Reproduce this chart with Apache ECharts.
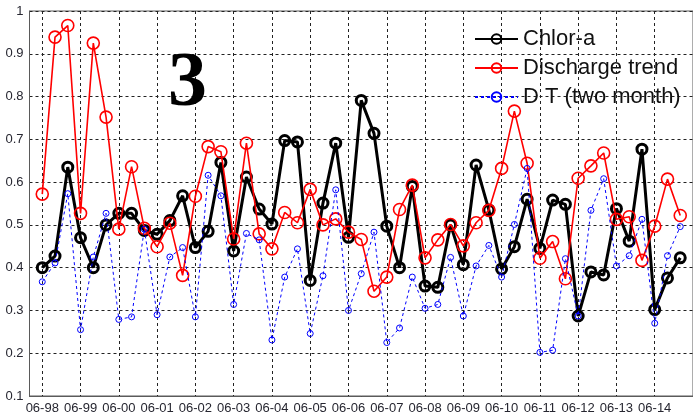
<!DOCTYPE html>
<html>
<head>
<meta charset="utf-8">
<script src="https://cdn.jsdelivr.net/npm/echarts@6/dist/echarts.min.js"></script>
<style>
  html, body { margin: 0; padding: 0; background: #fff; }
  #chart { width: 693px; height: 415px; }
</style>
</head>
<body>
<div id="chart"></div>
<script>
// Sampling dates, one every four months (MM-YY)
const dates = [
  '06-98','10-98','02-99','06-99','10-99','02-00','06-00','10-00','02-01',
  '06-01','10-01','02-02','06-02','10-02','02-03','06-03','10-03','02-04',
  '06-04','10-04','02-05','06-05','10-05','02-06','06-06','10-06','02-07',
  '06-07','10-07','02-08','06-08','10-08','02-09','06-09','10-09','02-10',
  '06-10','10-10','02-11','06-11','10-11','02-12','06-12','10-12','02-13',
  '06-13','10-13','02-14','06-14','10-14','02-15'
];

const chlorA = [
  0.400, 0.427, 0.635, 0.470, 0.400, 0.500, 0.527, 0.527, 0.487,
  0.478, 0.510, 0.568, 0.447, 0.485, 0.646, 0.439, 0.612, 0.537,
  0.502, 0.697, 0.694, 0.370, 0.551, 0.691, 0.471, 0.791, 0.714,
  0.497, 0.400, 0.590, 0.357, 0.354, 0.500, 0.407, 0.640, 0.535,
  0.397, 0.449, 0.560, 0.445, 0.558, 0.548, 0.287, 0.390, 0.383,
  0.538, 0.462, 0.677, 0.302, 0.376, 0.423
];

const dischargeTrend = [
  0.572, 0.939, 0.966, 0.527, 0.925, 0.752, 0.490, 0.636, 0.492,
  0.449, 0.504, 0.382, 0.567, 0.683, 0.671, 0.467, 0.691, 0.479,
  0.444, 0.529, 0.505, 0.583, 0.500, 0.514, 0.483, 0.466, 0.345,
  0.378, 0.536, 0.593, 0.423, 0.465, 0.501, 0.451, 0.505, 0.534,
  0.632, 0.766, 0.644, 0.422, 0.461, 0.374, 0.609, 0.638, 0.668,
  0.513, 0.519, 0.417, 0.497, 0.607, 0.522
];

const dischargeTwoMonth = [
  0.367, 0.411, 0.573, 0.255, 0.425, 0.527, 0.279, 0.285, 0.490,
  0.290, 0.425, 0.447, 0.285, 0.616, 0.568, 0.314, 0.480, 0.465,
  0.231, 0.378, 0.444, 0.246, 0.381, 0.582, 0.300, 0.386, 0.483,
  0.225, 0.259, 0.378, 0.305, 0.314, 0.424, 0.287, 0.404, 0.452,
  0.378, 0.501, 0.632, 0.202, 0.207, 0.421, 0.287, 0.534, 0.608,
  0.404, 0.428, 0.513, 0.270, 0.428, 0.496
];

const seriesNames = ['Chlor-a', 'Discharge trend', 'D T (two month)'];
const panelTag = '3';

// one empty slot on each side so the first sample sits inside the frame
const axisCats = [' '].concat(dates, ['  ']);
const pad = arr => [null].concat(arr, [null]);
const isJune = (idx, val) => typeof val === 'string' && val.indexOf('06-') === 0;

const FONT = '"Liberation Sans", Arial, sans-serif';
const STEP = 12.938;

const chart = echarts.init(document.getElementById('chart'), null, { renderer: 'canvas' });

chart.setOption({
  animation: false,
  backgroundColor: '#ffffff',
  grid: {
    left: 29.5,
    top: 11,
    width: STEP * (axisCats.length - 1),
    height: 388,
    show: true,
    borderColor: '#5a5a5a',
    borderWidth: 1,
    backgroundColor: 'transparent'
  },
  xAxis: {
    type: 'category',
    data: axisCats,
    boundaryGap: false,
    axisLine: { show: true, lineStyle: { color: '#5a5a5a', width: 1 } },
    axisTick: { show: false },
    axisLabel: {
      interval: isJune,
      margin: 6,
      color: '#262630',
      fontFamily: FONT,
      fontSize: 13
    },
    splitLine: {
      show: true,
      interval: isJune,
      lineStyle: { color: '#222', width: 1, type: [3, 3] }
    }
  },
  yAxis: {
    type: 'value',
    min: 0.1,
    max: 1,
    interval: 0.1,
    axisLine: { show: true, lineStyle: { color: '#5a5a5a', width: 1 } },
    axisTick: { show: false },
    axisLabel: {
      margin: 6,
      color: '#262630',
      fontFamily: FONT,
      fontSize: 13,
      formatter: v => String(Math.round(v * 10) / 10)
    },
    splitLine: {
      show: true,
      lineStyle: { color: '#222', width: 1, type: [3, 3] }
    }
  },
  legend: {
    orient: 'vertical',
    left: 469,
    top: 23,
    itemWidth: 43,
    itemHeight: 12,
    itemGap: 7,
    backgroundColor: 'transparent',
    textStyle: {
      fontFamily: FONT,
      fontSize: 22,
      lineHeight: 22,
      color: '#111'
    },
    data: seriesNames
  },
  graphic: [{
    type: 'text',
    left: 168,
    top: 46,
    z: 10,
    style: {
      text: panelTag,
      font: 'bold 78px "Liberation Serif", "Times New Roman", serif',
      fill: '#000'
    }
  }],
  series: [
    {
      name: seriesNames[0],
      type: 'line',
      data: pad(chlorA),
      z: 2,
      showAllSymbol: true,
      symbol: 'circle',
      symbolSize: 10,
      lineStyle: { color: '#000', width: 3 },
      itemStyle: { color: 'rgba(255,255,255,0)', borderColor: '#000', borderWidth: 3 }
    },
    {
      name: seriesNames[1],
      type: 'line',
      data: pad(dischargeTrend),
      z: 3,
      showAllSymbol: true,
      symbol: 'circle',
      symbolSize: 12,
      lineStyle: { color: '#ff0000', width: 1.6 },
      itemStyle: { color: 'rgba(255,255,255,0)', borderColor: '#ff0000', borderWidth: 1.6 }
    },
    {
      name: seriesNames[2],
      type: 'line',
      data: pad(dischargeTwoMonth),
      z: 4,
      showAllSymbol: true,
      symbol: 'circle',
      symbolSize: 6,
      lineStyle: { color: '#0000ff', width: 1, type: [3, 3] },
      itemStyle: { color: 'rgba(255,255,255,0)', borderColor: '#0000ff', borderWidth: 1 }
    }
  ]
});
</script>
</body>
</html>
